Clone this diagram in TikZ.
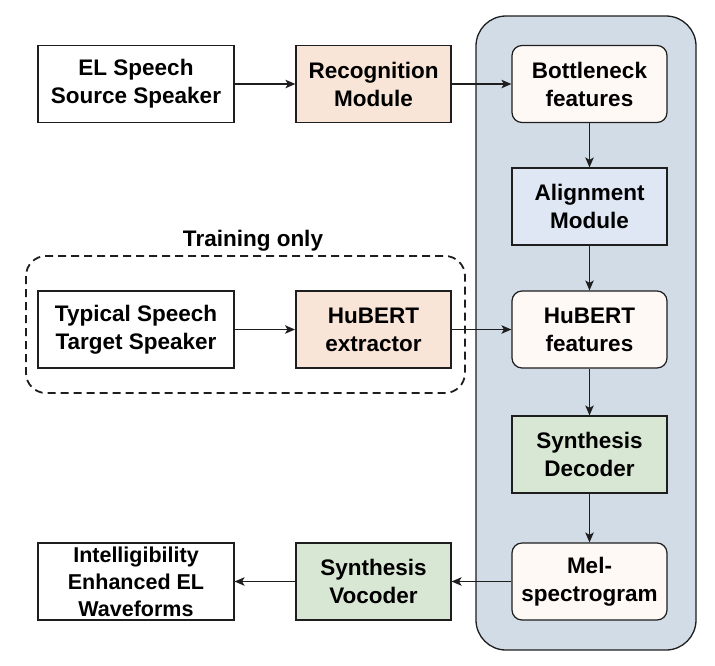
\documentclass[tikz,border=0pt]{standalone}
\usepackage{fontspec}
\setmainfont{Liberation Sans}
\usetikzlibrary{arrows.meta}
\definecolor{contfill}{HTML}{D1DCE6}
\definecolor{peach}{HTML}{F9E5D7}
\definecolor{cream}{HTML}{FFF9F5}
\definecolor{lblue}{HTML}{DEE7F3}
\definecolor{lgreen}{HTML}{D8E7D4}
\definecolor{ink}{HTML}{1E1E1E}
\begin{document}
\begin{tikzpicture}[x=1pt,y=-1pt,
  box/.style={draw=ink, line width=1.2pt, minimum height=77pt, inner sep=0pt, align=center,
    font=\bfseries\fontsize{22.5}{28}\selectfont},
  wbox/.style={box, minimum width=196pt, fill=white},
  mbox/.style={box, minimum width=155pt},
  rbox/.style={box, minimum width=155pt, rounded corners=10pt, fill=cream},
  thickbox/.style={line width=2pt},
  arr/.style={-{Stealth[length=10pt,width=8.5pt,inset=2.5pt]}, line width=1.2pt, draw=ink}]
\useasboundingbox (0,0) rectangle (715,665);
% container
\draw[fill=contfill, draw=ink, line width=1.3pt, rounded corners=30pt] (476,16) rectangle (696,650);
% training-only group
\draw[draw=ink, line width=1.8pt, dash pattern=on 8pt off 5pt, rounded corners=20pt] (26,256) rectangle (465,393);
\node[font=\bfseries\fontsize{22.5}{28}\selectfont, inner sep=0pt] (train) at (253,241) {Training only};
% nodes
\node[wbox] (el) at (136,84) {EL Speech\\Source Speaker};
\node[mbox, fill=peach] (rec) at (373.5,84) {Recognition\\Module};
\node[rbox] (bott) at (589.5,84) {Bottleneck\\features};
\node[mbox, fill=lblue] (align) at (589.5,206.5) {Alignment\\Module};
\node[wbox, thickbox] (typ) at (136,329.5) {Typical Speech\\Target Speaker};
\node[mbox, thickbox, fill=peach] (ext) at (373.5,329.5) {HuBERT\\extractor};
\node[rbox] (hubf) at (589.5,329.5) {HuBERT\\features};
\node[mbox, fill=lgreen] (dec) at (589.5,454.5) {Synthesis\\Decoder};
\node[rbox] (mel) at (589.5,581.5) {Mel-\\spectrogram};
\node[mbox, fill=lgreen] (voc) at (373.5,581.5) {Synthesis\\Vocoder};
\node[wbox, font=\bfseries\fontsize{21.5}{27}\selectfont] (int) at (136,581.5) {Intelligibility\\Enhanced EL\\Waveforms};
% connectors
\draw[arr] (el) -- (rec);
\draw[arr] (rec) -- (bott);
\draw[arr] (bott) -- (align);
\draw[arr] (align) -- (hubf);
\draw[arr] (typ) -- (ext);
\draw[arr] (ext) -- (hubf);
\draw[arr] (hubf) -- (dec);
\draw[arr] (dec) -- (mel);
\draw[arr] (mel) -- (voc);
\draw[arr] (voc) -- (int);
\end{tikzpicture}
\end{document}
